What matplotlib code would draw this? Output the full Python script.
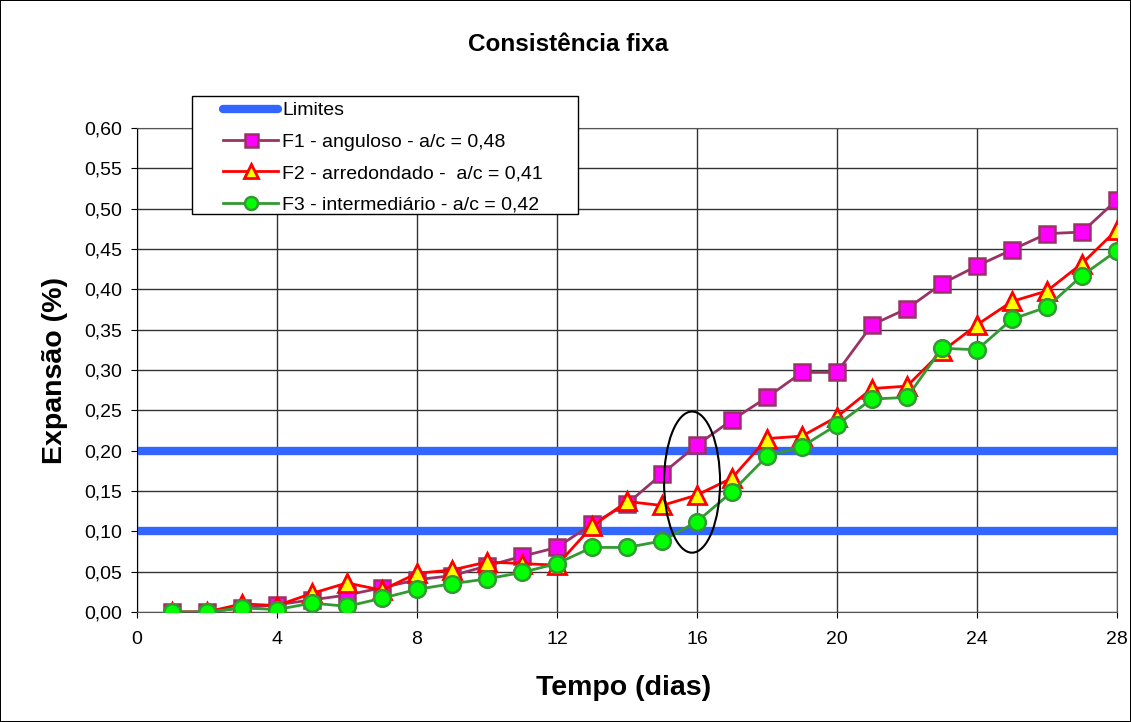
import matplotlib.pyplot as plt
from matplotlib.patches import Ellipse, Rectangle
from matplotlib.ticker import FuncFormatter

plt.rcParams['font.family'] = ['Liberation Sans', 'DejaVu Sans']

# Dados
dias = list(range(1, 29))
f1 = [0.000, 0.000, 0.005, 0.009, 0.015, 0.021, 0.030, 0.040, 0.045, 0.057,
      0.069, 0.080, 0.109, 0.134, 0.171, 0.207, 0.238, 0.266, 0.297, 0.297,
      0.356, 0.376, 0.407, 0.429, 0.449, 0.469, 0.471, 0.511]
f2 = [0.000, 0.000, 0.010, 0.008, 0.023, 0.036, 0.027, 0.048, 0.052, 0.062,
      0.060, 0.058, 0.106, 0.137, 0.132, 0.145, 0.166, 0.215, 0.218, 0.242,
      0.277, 0.280, 0.323, 0.356, 0.385, 0.398, 0.432, 0.474]
f3 = [0.000, 0.000, 0.005, 0.003, 0.011, 0.007, 0.017, 0.028, 0.035, 0.041,
      0.049, 0.060, 0.080, 0.080, 0.088, 0.112, 0.149, 0.193, 0.205, 0.232,
      0.264, 0.266, 0.327, 0.325, 0.363, 0.378, 0.417, 0.448]
limites = [0.10, 0.20]

fig = plt.figure(figsize=(11.31, 7.22), dpi=100, linewidth=1.2, edgecolor='black')
ax = fig.add_axes([0.1211, 0.1524, 0.8665, 0.6703])

for i, lim in enumerate(limites):
    ax.plot([0, 28], [lim, lim], color='#3366FF', lw=6, solid_capstyle='round',
            label='Limites' if i == 0 else None, zorder=2)

ax.plot(dias, f1, color='#993366', lw=2, marker='s', ms=12, mfc='#FF00FF',
        mec='#993366', mew=1.8, label='F1 - anguloso - a/c = 0,48', zorder=3)
ax.plot(dias, f2, color='red', lw=2, marker='^', ms=12.5, mfc='yellow',
        mec='red', mew=2, label='F2 - arredondado -  a/c = 0,41', zorder=4)
ax.plot(dias, f3, color='#339933', lw=2, marker='o', ms=12, mfc='#00FF00',
        mec='#339933', mew=1.8, label='F3 - intermediário - a/c = 0,42', zorder=5)

ax.add_patch(Ellipse((15.86, 0.161), 1.6, 0.175, fill=False, ec='black', lw=1.5, zorder=6))

ax.set_xlim(0, 28)
ax.set_ylim(0, 0.60)
ax.set_xticks(range(0, 29, 4))
ax.set_yticks([i * 0.05 for i in range(13)])
ax.yaxis.set_major_formatter(FuncFormatter(lambda v, p: f'{v:.2f}'.replace('.', ',')))
ax.grid(True, color='#333333', lw=1)
ax.set_axisbelow(True)
for s in ax.spines.values():
    s.set_color('#555555')
ax.spines['left'].set_color('black')
ax.tick_params(direction='out', length=4.5, labelsize=14, colors='black')
ax.tick_params(axis='y', pad=6)
ax.tick_params(axis='x', pad=9)

# rotulos e titulo
fig.text(0.5517, 0.0471, 'Tempo (dias)', ha='center', va='center',
         fontsize=20.5, fontweight='bold')
fig.text(0.049, 0.4875, 'Expansão (%)', ha='center', va='center', rotation=90,
         fontsize=20.5, fontweight='bold')
fig.text(0.502, 0.9377, 'Consistência fixa', ha='center', va='center',
         fontsize=17.5, fontweight='bold')

# caixa da legenda
fig.patches.append(Rectangle((0.1698, 0.7036), 0.3413, 0.1634, transform=fig.transFigure,
                             facecolor='white', edgecolor='black', lw=1, zorder=4))
leg = fig.legend(loc='upper left', bbox_to_anchor=(0.197, 0.859), fontsize=14,
                 frameon=False, handlelength=2.85, handletextpad=0.2, borderpad=0,
                 labelspacing=0.71, borderaxespad=0, markerscale=0.78)
leg.set_zorder(5)

fig.savefig('out.png', dpi=100)
